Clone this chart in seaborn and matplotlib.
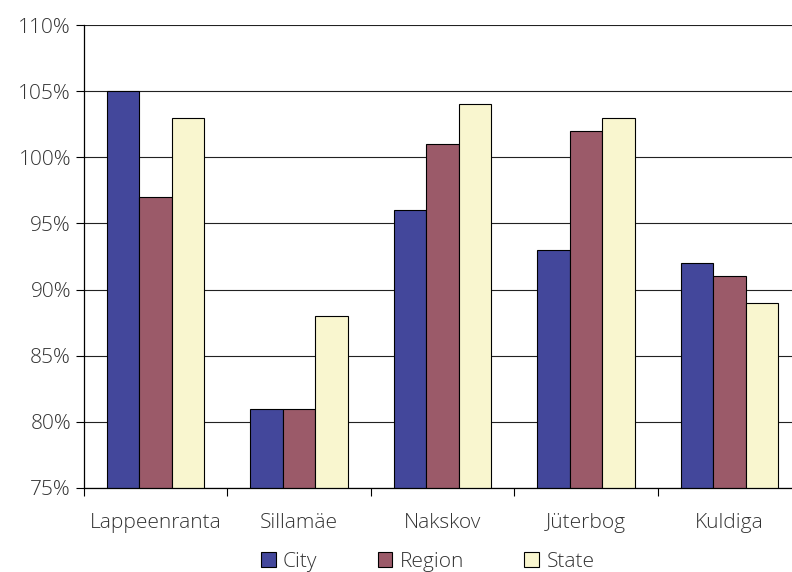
import matplotlib
matplotlib.use("Agg")
import matplotlib.pyplot as plt
import seaborn as sns
import pandas as pd
from matplotlib.ticker import FixedLocator, FuncFormatter

cities = ["Lappeenranta", "Sillamäe", "Nakskov", "Jüterbog", "Kuldiga"]
series = ["City", "Region", "State"]
city_vals = [105, 81, 96, 93, 92]
region_vals = [97, 81, 101, 102, 91]
state_vals = [103, 88, 104, 103, 89]
colors = ["#43479B", "#9B5A69", "#F9F6CF"]

df = pd.DataFrame({
    "place": cities * 3,
    "level": [s for s in series for _ in cities],
    "value": city_vals + region_vals + state_vals,
})

sns.set_theme(style="white")
plt.rcParams["font.family"] = ["Open Sans", "DejaVu Sans"]
plt.rcParams["font.weight"] = "light"
text_color = "#333333"
fsize = 15

fig = plt.figure(figsize=(7.92, 5.72), dpi=100)
# plot area runs slightly past the right edge of the canvas
ax = fig.add_axes([0.1055, 0.147, 0.906, 0.809])

sns.barplot(data=df, x="place", y="value", hue="level", order=cities,
            hue_order=series, palette=colors, saturation=1, width=0.68,
            edgecolor="black", linewidth=0.8, ax=ax, legend=False)

ax.set_ylim(75, 110)
ax.set_xlim(-0.5, 4.5)
ax.yaxis.set_major_locator(FixedLocator(range(75, 111, 5)))
ax.yaxis.set_major_formatter(FuncFormatter(lambda v, p: f"{int(v)}%"))
ax.grid(axis="y", color="#222222", linewidth=0.8)
ax.set_axisbelow(True)

for s in ["top", "right"]:
    ax.spines[s].set_visible(False)
for s in ["left", "bottom"]:
    ax.spines[s].set_color("black")
    ax.spines[s].set_linewidth(0.9)

ax.tick_params(axis="y", which="major", left=True, length=6, width=0.8,
               color="black", labelsize=fsize, labelcolor=text_color, pad=3)
ax.tick_params(axis="x", which="major", bottom=False, labelsize=fsize,
               labelcolor=text_color, pad=12)
ax.xaxis.set_minor_locator(FixedLocator([-0.5, 0.5, 1.5, 2.5, 3.5]))
ax.tick_params(axis="x", which="minor", bottom=True, length=6, width=0.8,
               color="black")
ax.set_xlabel("")
ax.set_ylabel("")

handles = [plt.Rectangle((0, 0), 1, 1, facecolor=c, edgecolor="black", linewidth=0.8)
           for c in colors]
fig.legend(handles, series, loc="center", bbox_to_anchor=(0.54, 0.018),
           ncol=3, frameon=False, fontsize=fsize, handlelength=0.7,
           handleheight=0.7, handletextpad=0.35, columnspacing=2.9,
           labelcolor=text_color)

fig.savefig("out.png", dpi=100)
